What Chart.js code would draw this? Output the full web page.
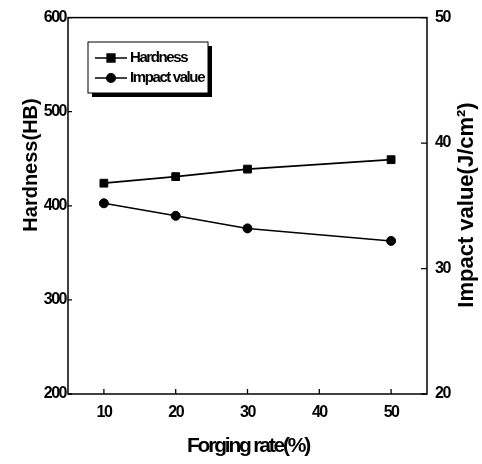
<!DOCTYPE html>
<html>
<head>
<meta charset="utf-8">
<script src="https://cdn.jsdelivr.net/npm/chart.js@4"></script>
<style>
  html, body { margin: 0; padding: 0; background: #fff; }
  #wrap { width: 482px; height: 464px; }
</style>
</head>
<body>
<div id="wrap"><canvas id="c" width="482" height="464"></canvas></div>
<script>
const forgingRate = [10, 20, 30, 40, 50];
const xValues = [10, 20, 30, 50];
const hardness = [424, 431, 439, 449];
const impactValue = [35.2, 34.2, 33.2, 32.2];
const xTicks = [10, 20, 30, 40, 50];
const hardnessTicks = [200, 300, 400, 500, 600];
const impactTicks = [20, 30, 40, 50];

const FONT = '"Liberation Sans", Arial, sans-serif';

const framePlugin = {
  id: 'frame',
  beforeDraw(chart) {
    chart.ctx.letterSpacing = '-1.5px';
  },
  afterDatasetsDraw(chart) {
    const ctx = chart.ctx;
    const a = chart.chartArea;
    const sx = chart.scales.x, sy = chart.scales.y, sy2 = chart.scales.y2;
    ctx.save();
    ctx.letterSpacing = '0px';
    ctx.strokeStyle = '#000';
    ctx.lineWidth = 1.5;
    ctx.strokeRect(a.left, a.top, a.right - a.left, a.bottom - a.top);
    ctx.lineWidth = 1.3;
    ctx.beginPath();
    xTicks.forEach(v => { const p = sx.getPixelForValue(v); ctx.moveTo(p, a.bottom); ctx.lineTo(p, a.bottom - 5); });
    hardnessTicks.forEach(v => { const p = sy.getPixelForValue(v); ctx.moveTo(a.left, p); ctx.lineTo(a.left + 4, p); });
    impactTicks.forEach(v => { const p = sy2.getPixelForValue(v); ctx.moveTo(a.right, p); ctx.lineTo(a.right - 6, p); });
    ctx.stroke();

    // legend
    const lx = 88, ly = 42, lw = 120, lh = 51;
    ctx.fillStyle = '#000';
    ctx.fillRect(lx + 4, ly + lh, lw, 4);
    ctx.fillRect(lx + lw, ly + 4, 4, lh);
    ctx.fillStyle = '#fff';
    ctx.fillRect(lx, ly, lw, lh);
    ctx.lineWidth = 1;
    ctx.strokeStyle = '#000';
    ctx.strokeRect(lx, ly, lw, lh);
    const rows = [
      { y: 58, label: chart.data.datasets[0].label, style: 'rect', r: 5.5 },
      { y: 78, label: chart.data.datasets[1].label, style: 'circle', r: 4.3 }
    ];
    rows.forEach(row => {
      ctx.lineWidth = 1.5;
      ctx.beginPath();
      ctx.moveTo(95, row.y); ctx.lineTo(127, row.y);
      ctx.stroke();
      ctx.fillStyle = '#000';
      Chart.helpers.drawPoint(ctx, { pointStyle: row.style, radius: row.r, borderWidth: 1 }, 111, row.y);
      ctx.fillStyle = '#000';
      ctx.font = 'bold 15px ' + FONT;
      ctx.letterSpacing = '-1.4px';
      ctx.textAlign = 'left';
      ctx.textBaseline = 'middle';
      ctx.fillText(row.label, 130, row.y);
    });

    // axis titles
    ctx.fillStyle = '#000';
    ctx.textAlign = 'center';
    ctx.textBaseline = 'middle';
    ctx.font = 'bold 21px ' + FONT;
    ctx.letterSpacing = '-2.2px';
    ctx.fillText('Forging rate(%)', 248, 446);

    ctx.letterSpacing = '0px';
    ctx.font = 'bold 20px ' + FONT;
    ctx.save();
    ctx.translate(31, 165);
    ctx.rotate(-Math.PI / 2);
    ctx.fillText('Hardness(HB)', 0, 0);
    ctx.restore();

    ctx.font = 'bold 22px ' + FONT;
    ctx.save();
    ctx.translate(467, 205);
    ctx.rotate(-Math.PI / 2);
    ctx.fillText('Impact value(J/cm²)', 0, 0);
    ctx.restore();
    ctx.restore();
  }
};

new Chart(document.getElementById('c'), {
  type: 'line',
  data: {
    datasets: [
      {
        label: 'Hardness',
        data: xValues.map((x, i) => ({ x, y: hardness[i] })),
        yAxisID: 'y',
        borderColor: '#000',
        backgroundColor: '#000',
        borderWidth: 1.8,
        pointStyle: 'rect',
        pointRadius: 5.5,
        pointBorderWidth: 1,
        tension: 0
      },
      {
        label: 'Impact value',
        data: xValues.map((x, i) => ({ x, y: impactValue[i] })),
        yAxisID: 'y2',
        borderColor: '#000',
        backgroundColor: '#000',
        borderWidth: 1.5,
        pointStyle: 'circle',
        pointRadius: 4.5,
        pointBorderWidth: 1,
        tension: 0
      }
    ]
  },
  options: {
    responsive: false,
    animation: false,
    devicePixelRatio: 1,
    layout: { padding: { top: 17, left: 0, right: 0, bottom: 0 } },
    plugins: { legend: { display: false }, tooltip: { enabled: false } },
    scales: {
      x: {
        type: 'linear',
        min: 5, max: 55,
        afterBuildTicks: s => { s.ticks = xTicks.map(v => ({ value: v })); },
        afterFit: s => { s.height = 70; },
        grid: { display: false, drawTicks: false },
        border: { display: false },
        ticks: { color: '#000', font: { family: FONT, size: 16, weight: 'bold' }, padding: 9 }
      },
      y: {
        type: 'linear',
        position: 'left',
        min: 200, max: 600,
        afterBuildTicks: s => { s.ticks = hardnessTicks.map(v => ({ value: v })); },
        afterFit: s => { s.width = 68; },
        grid: { display: false, drawTicks: false },
        border: { display: false },
        ticks: { color: '#000', font: { family: FONT, size: 16, weight: 'bold' }, padding: 2 }
      },
      y2: {
        type: 'linear',
        position: 'right',
        min: 20, max: 50,
        afterBuildTicks: s => { s.ticks = impactTicks.map(v => ({ value: v })); },
        afterFit: s => { s.width = 55; },
        grid: { display: false, drawTicks: false },
        border: { display: false },
        ticks: { color: '#000', font: { family: FONT, size: 16, weight: 'bold' }, padding: 8 }
      }
    }
  },
  plugins: [framePlugin]
});
</script>
</body>
</html>
